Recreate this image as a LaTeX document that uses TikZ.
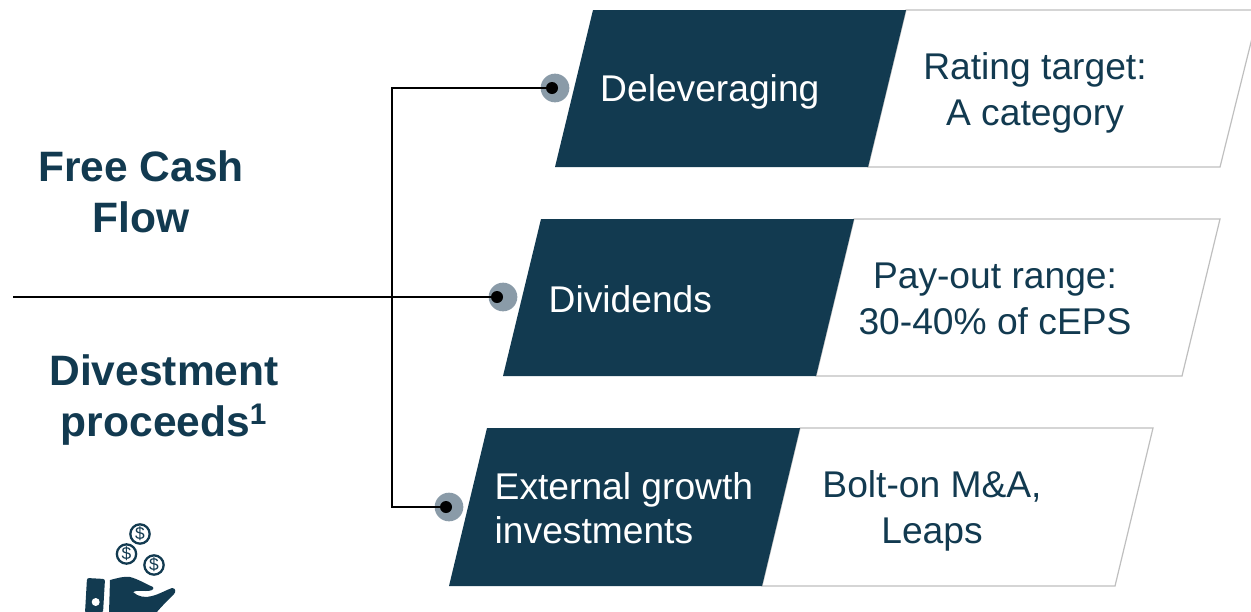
\documentclass[tikz,border=0pt]{standalone}
\usepackage{xcolor}
\usepackage{fontspec}
\setmainfont{Liberation Sans}
\definecolor{navyfill}{HTML}{123A50}
\definecolor{pingrey}{HTML}{8A9BA8}
\definecolor{edgegrey}{HTML}{BFBFBF}
\tikzset{
    darkpanel/.style={fill=navyfill},
    lightpanel/.style={draw=edgegrey, line width=0.9pt, fill=white},
    pinnode/.style={circle, fill=pingrey, minimum size=21.5pt, inner sep=0pt},
    dotnode/.style={circle, fill=black, minimum size=9pt, inner sep=0pt},
    wire/.style={draw=black, line width=1.8pt},
    paneltext/.style={text=white, font=\fontsize{27.9}{33}\selectfont, align=left, anchor=west},
    notetext/.style={text=navyfill, font=\fontsize{27.9}{34.5}\selectfont, align=center},
    headtext/.style={text=navyfill, font=\fontsize{31.9}{38}\selectfont\bfseries, align=center},
    coinring/.style={circle, draw=navyfill, line width=1.7pt, fill=white, minimum size=14.5pt, inner sep=0pt},
    cointext/.style={text=navyfill, font=\fontsize{13}{13}\selectfont}
}

\begin{document}
\begin{tikzpicture}[x=0.75pt, y=-0.75pt]
    \useasboundingbox (0,0) rectangle (1251,611);
    \clip (0,0) rectangle (1251,611);

    % right hand panels
    \path[lightpanel] (906,10) -- (1259,10) -- (1220,167) -- (868,167) -- cycle;
    \path[lightpanel] (854,219) -- (1220,219) -- (1182,376) -- (816,376) -- cycle;
    \path[lightpanel] (800,428) -- (1153,428) -- (1115,586) -- (762,586) -- cycle;

    % dark panels
    \path[darkpanel] (593,10) -- (906,10) -- (868,167) -- (555,167) -- cycle;
    \path[darkpanel] (541,219) -- (854,219) -- (816,376) -- (503,376) -- cycle;
    \path[darkpanel] (487,428) -- (800,428) -- (762,586) -- (449,586) -- cycle;

    \node[paneltext] (deleveraging) at (595.5,92) {Deleveraging};
    \node[paneltext] (dividends) at (544,299) {Dividends};
    \node[paneltext] (growth) at (490,508) {External growth\\investments};

    \node[notetext] (rating) at (1035,93) {Rating target:\\A category};
    \node[notetext] (payout) at (995,299) {Pay-out range:\\30-40\% of cEPS};
    \node[notetext] (bolton) at (932,511) {Bolt-on M\&A,\\Leaps};

    \node[headtext] (cash) at (141,192) {Free Cash\\Flow};
    \node[headtext] (proceeds) at (164,400) {Divestment\\proceeds\textsuperscript{1}};

    % pins
    \node[pinnode] (pinA) at (555,88) {};
    \node[pinnode] (pinB) at (503,297) {};
    \node[pinnode] (pinC) at (449,507) {};
    \node[dotnode] (dotA) at (552,88) {};
    \node[dotnode] (dotB) at (497,297) {};
    \node[dotnode] (dotC) at (446,507) {};

    % wires
    \coordinate (start) at (13,297);
    \coordinate (elbowA) at (392,88);
    \coordinate (elbowC) at (392,507);
    \draw[wire] (start) -- (dotB.center);
    \draw[wire] (dotA.center) -- (elbowA) -- (elbowC) -- (dotC.center);

    % money icon
    \node[coinring] (coinA) at (140,534) {};
    \node[coinring] (coinB) at (126.5,554) {};
    \node[coinring] (coinC) at (154,565) {};
    \node[cointext] at (coinA) {\$};
    \node[cointext] at (coinB) {\$};
    \node[cointext] at (coinC) {\$};
    \fill[navyfill, rounded corners=1.5pt] (87,578) -- (105,579) -- (103,613) -- (85,613) -- cycle;
    \fill[white] (95.7,602) circle (3pt);
    \fill[navyfill] (110,580) .. controls (118,578) and (124,576) .. (130,577)
        .. controls (138,579) and (146,584) .. (153,587)
        .. controls (155,590) and (150,591) .. (146,591)
        .. controls (141,591) and (137,590) .. (133,592)
        .. controls (138,597) and (146,598) .. (152,596)
        .. controls (160,594) and (166,590) .. (172,588)
        .. controls (176,588) and (176,592) .. (174,594)
        .. controls (168,600) and (162,606) .. (156,613)
        -- (109,613) -- cycle;
\end{tikzpicture}
\end{document}
